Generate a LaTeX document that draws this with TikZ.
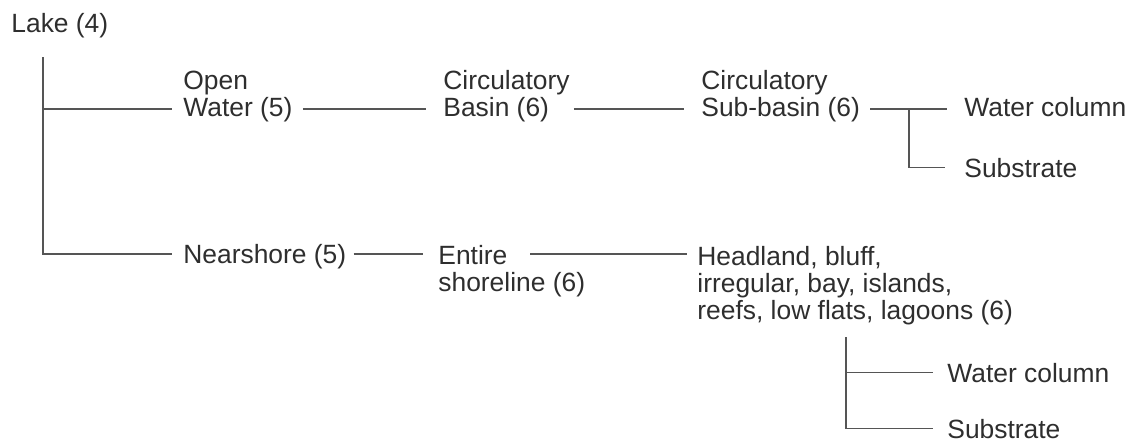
\documentclass[tikz,border=0pt]{standalone}
\usepackage{fontspec}
\setmainfont{Liberation Sans}
\usetikzlibrary{positioning,calc}
\definecolor{ltext}{HTML}{2E2E2E}
\definecolor{lline}{HTML}{555555}
\tikzset{
  lbl/.style={anchor=base west, inner sep=0pt, align=left, text=ltext,
              font=\fontsize{13.2}{13.5}\selectfont},
  lnk/.style={draw=lline, line width=0.6pt},
}

\begin{document}
\begin{tikzpicture}[x=0.5pt,y=-0.5pt]
  \useasboundingbox (0,0) rectangle (1132,441);

  % units (base = last line)
  \node[lbl] (lake) at (11,32) {Lake (4)};
  \node[lbl] (open) at (183,116) {Open\\Water (5)};
  \node[lbl] (basin) at (443,116) {Circulatory\\Basin (6)};
  \node[lbl] (subbasin) at (701,116) {Circulatory\\Sub-basin (6)};
  \node[lbl] (wcA) at (964,116) {Water column};
  \node[lbl] (subA) at (964,177) {Substrate};
  \node[lbl] (near) at (183,263) {Nearshore (5)};
  \node[lbl] (entire) at (438,291) {Entire\\shoreline (6)};
  \node[lbl] (head) at (697,319) {Headland, bluff,\\irregular, bay, islands,\\reefs, low flats, lagoons (6)};
  \node[lbl] (wcB) at (947,382) {Water column};
  \node[lbl] (subB) at (947,438) {Substrate};

  % row levels and forks
  \coordinate (trunk) at (43,57);
  \coordinate (rowA) at (0,109);
  \coordinate (rowB) at (0,254);
  \coordinate (forkA) at (909,109);
  \coordinate (forkB) at (846,337);

  % links (shifts in pt, half a pixel of the grid)
  \draw[lnk] (trunk) |- ([xshift=-5.5]open.west |- rowA);
  \draw[lnk] (trunk) |- ([xshift=-5.5]near.west |- rowB);
  \draw[lnk] ([xshift=5]open.east |- rowA) -- ([xshift=-8.5]basin.west |- rowA);
  \draw[lnk] ([xshift=2]basin.east |- rowA) -- ([xshift=-8.5]subbasin.west |- rowA);
  \draw[lnk] ([xshift=5]subbasin.east |- rowA) -- ([xshift=-8.5]wcA.west |- rowA);
  \draw[lnk] (forkA) |- ([xshift=-9.5]subA.west);
  \draw[lnk] ([xshift=3.5]near.east |- rowB) -- ([xshift=-7.5]entire.west |- rowB);
  \draw[lnk] ([xshift=46]entire.west |- rowB) -- ([xshift=-5]head.west |- rowB);
  \draw[lnk] (forkB) |- ([xshift=-7]subB.west);
  \draw[lnk] (forkB |- wcB.west) -- ([xshift=-7]wcB.west);

\end{tikzpicture}
\end{document}
